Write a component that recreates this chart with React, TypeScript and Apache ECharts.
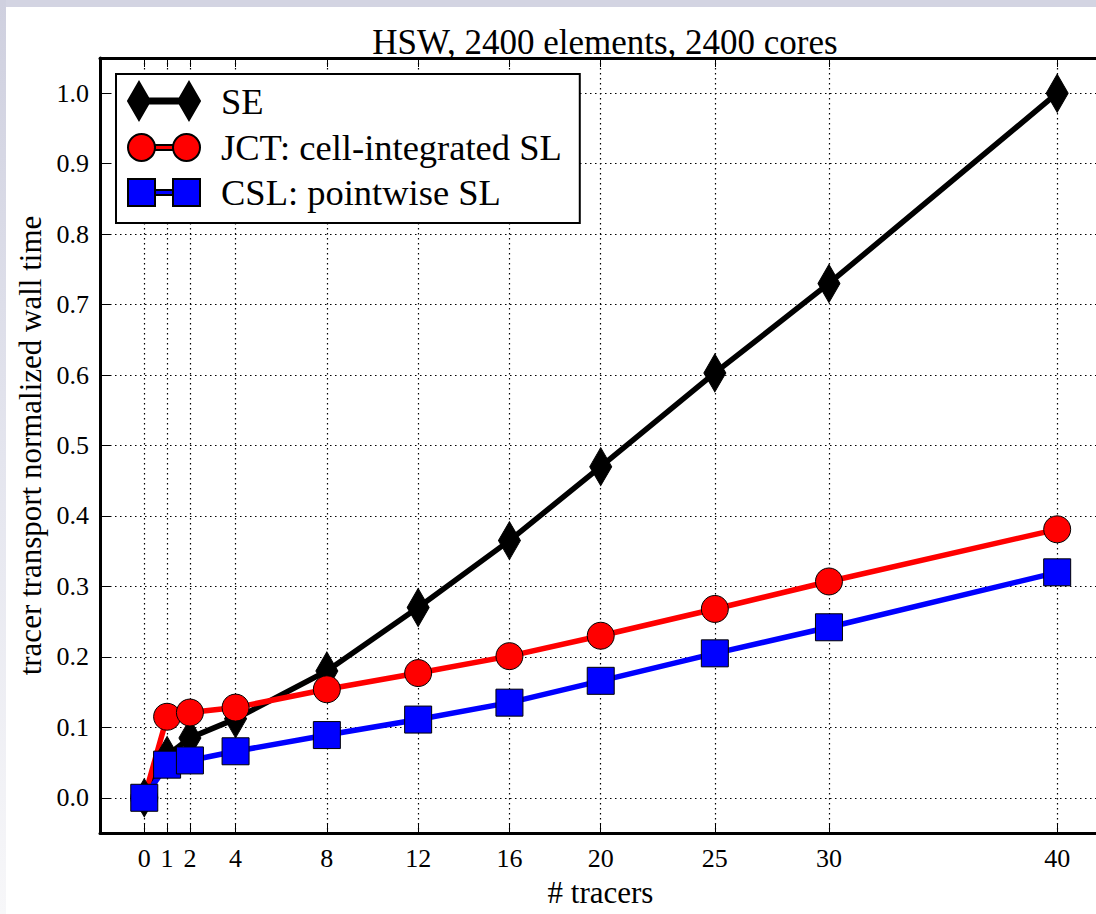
import React, { useEffect, useRef } from "react";
import * as echarts from "echarts";

const tracers = [0, 1, 2, 4, 8, 12, 16, 20, 25, 30, 40];
const seValues = [0.0, 0.06, 0.085, 0.112, 0.18, 0.27, 0.365, 0.47, 0.603, 0.73, 1.0];
const jctValues = [0.0, 0.115, 0.121, 0.128, 0.154, 0.177, 0.201, 0.23, 0.268, 0.307, 0.381];
const cslValues = [0.0, 0.047, 0.053, 0.066, 0.089, 0.111, 0.135, 0.166, 0.205, 0.242, 0.32];
const yTicks = [0, 0.1, 0.2, 0.3, 0.4, 0.5, 0.6, 0.7, 0.8, 0.9, 1.0];
const seriesNames = ["SE", "JCT: cell-integrated SL", "CSL: pointwise SL"];

const FONT = "Liberation Serif";

export default function App() {
  const ref = useRef<HTMLDivElement>(null);
  useEffect(() => {
    if (!ref.current) return;
    const chart = echarts.init(ref.current, null, { renderer: "svg" });
    const pairs = (vals: number[]) => tracers.map((x, i) => [x, vals[i]]);
    const dotted = { color: "#000", width: 1.2, type: [1.5, 3.5] as any };
    const option: any = {
      animation: false,
      backgroundColor: "#ffffff",
      title: {
        text: "HSW, 2400 elements, 2400 cores",
        left: 600,
        textAlign: "center",
        top: 20,
        textStyle: { fontFamily: FONT, fontSize: 35, fontWeight: "normal", color: "#000" },
      },
      graphic: [
        { type: "rect", left: 0, top: 0, shape: { width: 1096, height: 7 }, style: { fill: "#d3d4e2" }, z: 100 },
        {
          type: "rect",
          left: 0,
          top: 0,
          shape: { width: 6, height: 914 },
          style: {
            fill: new echarts.graphic.LinearGradient(0, 0, 0, 1, [
              { offset: 0, color: "#cfd0df" },
              { offset: 0.5, color: "#e4e5ee" },
              { offset: 1, color: "#f7f7f9" },
            ]),
          },
          z: 100,
        },
      ],
      grid: { left: 100, top: 58, width: 1001, height: 775, containLabel: false, outerBoundsMode: "none" },
      legend: {
        orient: "vertical",
        left: 116,
        top: 74,
        backgroundColor: "#ffffff",
        borderColor: "#000",
        borderWidth: 2,
        borderRadius: 0,
        padding: [7, 18, 12, 11],
        itemGap: 8,
        itemWidth: 72,
        itemHeight: 38,
        symbolKeepAspect: true,
        textStyle: { fontFamily: FONT, fontSize: 36.5, color: "#000", padding: [0, 0, 0, 16] },
        data: [
          { name: seriesNames[0], icon: "path://M0,19L11,0L22,19L11,38ZM11,16.5L61,16.5L61,21.5L11,21.5ZM50,19L61,0L72,19L61,38Z" },
          {
            name: seriesNames[1],
            icon: "path://M0,13.5A13.5,13.5,0,1,1,27,13.5A13.5,13.5,0,1,1,0,13.5ZM27,11L45,11L45,16L27,16ZM45,13.5A13.5,13.5,0,1,1,72,13.5A13.5,13.5,0,1,1,45,13.5Z",
          },
          { name: seriesNames[2], icon: "path://M0,0L27,0L27,27L0,27ZM27,11L45,11L45,16L27,16ZM45,0L72,0L72,27L45,27Z" },
        ],
      },
      xAxis: [
        {
          type: "value",
          min: -1.94,
          max: 41.92,
          position: "bottom",
          name: "# tracers",
          nameLocation: "middle",
          nameGap: 44,
          nameTextStyle: { fontFamily: FONT, fontSize: 31, color: "#000", verticalAlign: "top" },
          axisLine: { show: true, onZero: false, lineStyle: { color: "#000", width: 3 } },
          axisTick: { show: true, inside: true, length: 9, customValues: tracers, lineStyle: { color: "#000", width: 1 } },
          axisLabel: { customValues: tracers, margin: 12, fontFamily: FONT, fontSize: 26, color: "#000" },
          splitLine: { show: true, lineStyle: dotted },
        },
        {
          type: "value",
          min: -1.94,
          max: 41.92,
          position: "top",
          axisLine: { show: true, onZero: false, lineStyle: { color: "#000", width: 3 } },
          axisTick: { show: true, inside: true, length: 9, customValues: tracers, lineStyle: { color: "#000", width: 1 } },
          axisLabel: { show: false, customValues: tracers },
          splitLine: { show: false },
        },
      ],
      yAxis: [
        {
          type: "value",
          min: -0.05,
          max: 1.05,
          position: "left",
          name: "tracer transport normalized wall time",
          nameLocation: "middle",
          nameRotate: 90,
          nameGap: 46,
          nameTextStyle: { fontFamily: FONT, fontSize: 31, color: "#000" },
          axisLine: { show: true, onZero: false, lineStyle: { color: "#000", width: 3 } },
          axisTick: { show: true, inside: true, length: 10, customValues: yTicks, lineStyle: { color: "#000", width: 1 } },
          axisLabel: {
            customValues: yTicks,
            margin: 11,
            fontFamily: FONT,
            fontSize: 26,
            color: "#000",
            formatter: (v: number) => v.toFixed(1),
          },
          splitLine: { show: true, lineStyle: dotted },
        },
      ],
      series: [
        {
          name: seriesNames[0],
          type: "line",
          data: pairs(seValues),
          symbol: "diamond",
          symbolSize: [22, 38],
          lineStyle: { color: "#000", width: 5.5 },
          itemStyle: { color: "#000", borderColor: "#000", borderWidth: 1 },
          clip: false,
        },
        {
          name: seriesNames[1],
          type: "line",
          data: pairs(jctValues),
          symbol: "circle",
          symbolSize: 27,
          lineStyle: { color: "#ff0000", width: 5.5 },
          itemStyle: { color: "#ff0000", borderColor: "#000", borderWidth: 1 },
          clip: false,
        },
        {
          name: seriesNames[2],
          type: "line",
          data: pairs(cslValues),
          symbol: "rect",
          symbolSize: 27,
          lineStyle: { color: "#0000ff", width: 5.5 },
          itemStyle: { color: "#0000ff", borderColor: "#000", borderWidth: 1 },
          clip: false,
        },
      ],
    };
    chart.setOption(option);
    return () => chart.dispose();
  }, []);
  return <div ref={ref} style={{ position: "fixed", left: 0, top: 0, width: 1096, height: 914 }} />;
}
